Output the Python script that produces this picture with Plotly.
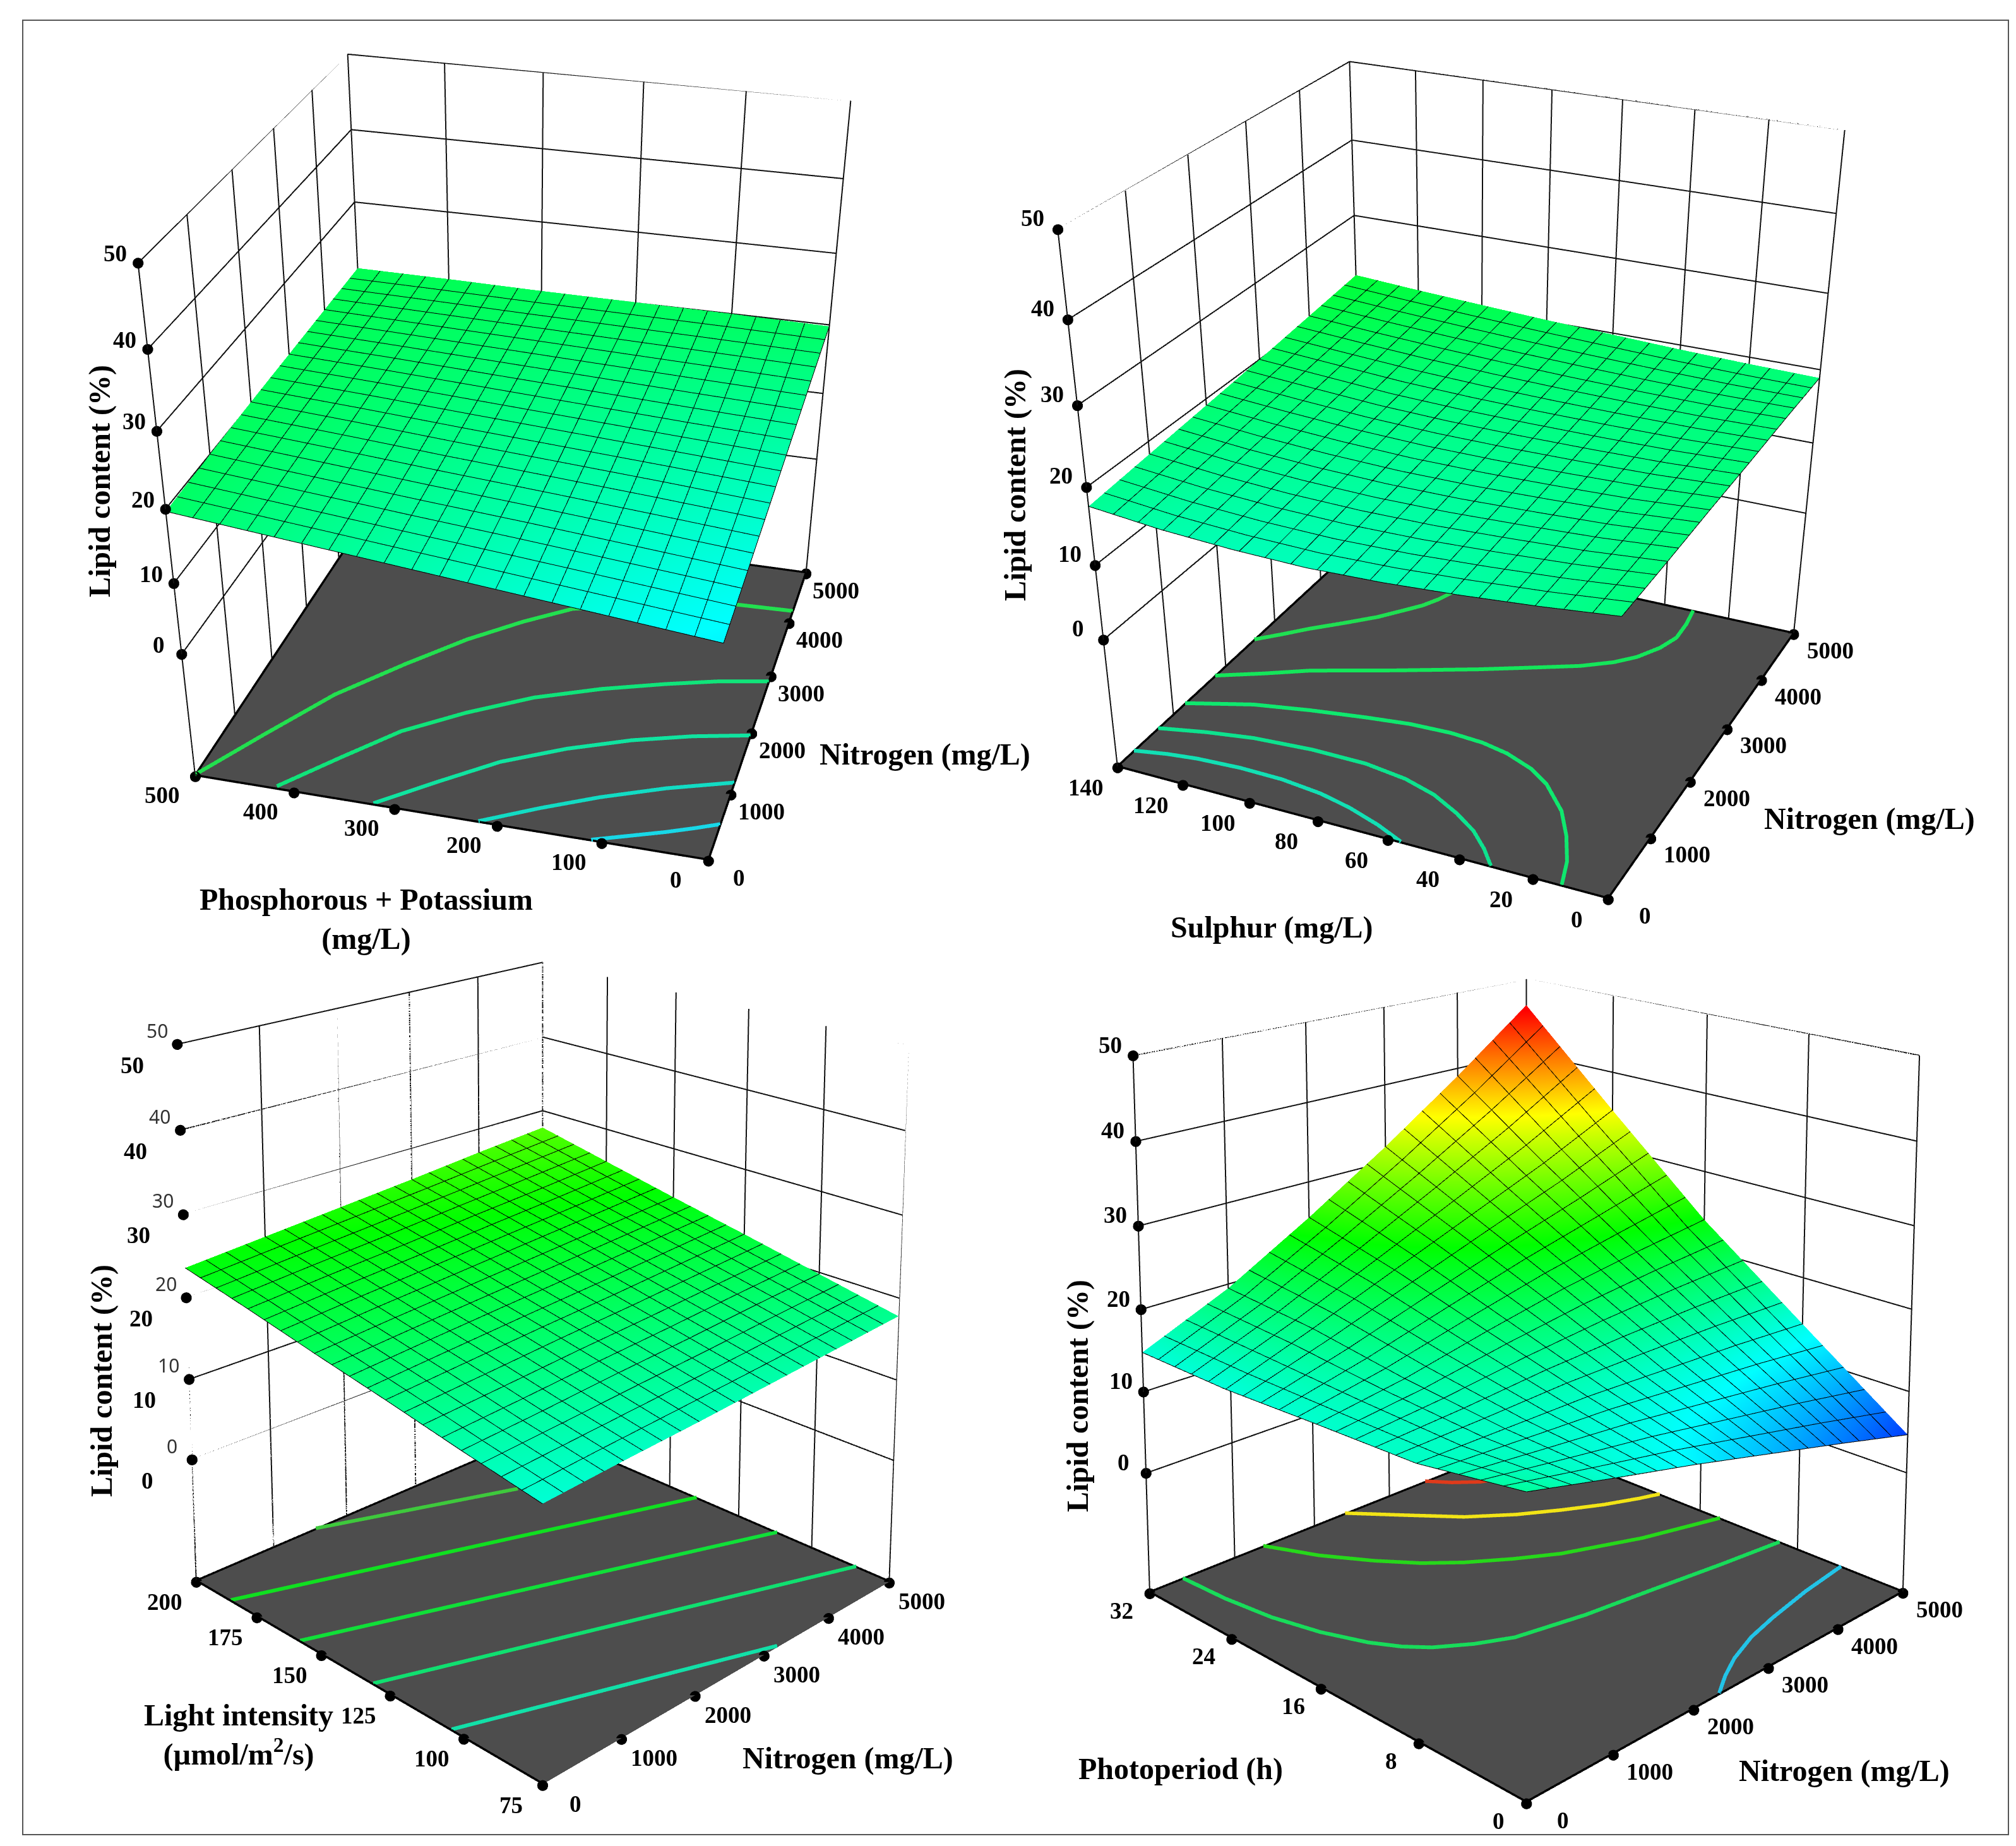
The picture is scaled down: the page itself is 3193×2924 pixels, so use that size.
import plotly.graph_objects as go

W, H = 3193, 2924

nitrogen = [0, 1000, 2000, 3000, 4000, 5000]
lipid_ticks = [0, 10, 20, 30, 40, 50]

# panel 1: phosphorous + potassium
pk = [0, 100, 200, 300, 400, 500]
lipid_pk = [
    [12.7, 14.1, 15.5, 17.0, 18.4, 19.8],
    [14.1, 15.3, 16.5, 17.6, 18.8, 20.0],
    [15.5, 16.5, 17.4, 18.3, 19.2, 20.1],
    [16.9, 17.6, 18.3, 19.0, 19.6, 20.2],
    [18.3, 18.8, 19.3, 19.7, 20.0, 20.4],
    [19.7, 20.0, 20.2, 20.3, 20.4, 20.5],
]
pk_contours = [
    ([0, 800, 1571, 2250, 2837, 3300, 3666, 3950, 4178, 4208], [500, 458, 416, 365, 317, 270, 226, 150, 65, 0]),
    ([27, 600, 1151, 1600, 2016, 2330, 2573, 2750, 2879], [418, 375, 332, 280, 222, 160, 100, 50, 0]),
    ([9, 480, 921, 1280, 1572, 1780, 1937], [321, 272, 224, 168, 110, 55, 0]),
    ([0, 330, 628, 920, 1165], [218, 168, 118, 60, 0]),
    ([0, 140, 279, 400, 518], [110, 78, 46.5, 22, 0]),
]

# panel 2: sulphur
sulphur = [0, 20, 40, 60, 80, 100, 120, 140]
lipid_s = [
    [18.7, 18.7, 18.8, 18.8, 18.9, 18.9],
    [17.7, 17.9, 18.2, 18.5, 18.8, 19.1],
    [16.9, 17.4, 17.9, 18.4, 18.9, 19.4],
    [16.3, 17.0, 17.7, 18.4, 19.1, 19.8],
    [16.0, 16.9, 17.7, 18.5, 19.4, 20.2],
    [16.2, 17.1, 18.0, 18.8, 19.8, 20.7],
    [16.7, 17.6, 18.5, 19.4, 20.3, 21.2],
    [17.6, 18.4, 19.2, 20.0, 20.9, 21.8],
]
s_contours = [
    ([2575, 2790, 3004, 3250, 3507, 3720, 3921, 4110, 4298], [140, 134, 128.4, 121, 113.7, 109, 104.7, 102, 100.2]),
    ([1791, 2030, 2267, 2630, 2992, 3240, 3474, 3680, 3873, 4140, 4400, 4700, 5000],
     [140, 128, 117.1, 95, 74.1, 61, 48.8, 41, 36.1, 32, 29.8, 30, 31]),
    ([1218, 1350, 1473, 1610, 1720, 1790, 1810, 1780, 1706, 1560, 1382, 1040, 697, 340, 0],
     [140, 131, 122.6, 107, 91.3, 79, 66.9, 57, 48.9, 40, 33.4, 25, 19.5, 15, 12.3]),
    ([720, 850, 946, 1000, 996, 920, 795, 610, 424, 210, 0], [140, 127, 114.1, 97, 80.7, 68, 58, 49, 41.8, 36, 31.4]),
    ([285, 365, 413, 445, 438, 380, 287, 150, 0], [140, 131, 122.7, 110, 97.4, 85, 75.2, 65, 56.3]),
]

# panel 3: light intensity
light = [75, 100, 125, 150, 175, 200]
lipid_l = [
    [14.9, 15.5, 16.0, 16.6, 17.2, 17.8],
    [16.6, 17.2, 17.9, 18.5, 19.2, 19.8],
    [18.4, 19.1, 19.8, 20.4, 21.1, 21.8],
    [20.1, 20.9, 21.6, 22.3, 23.0, 23.7],
    [21.9, 22.7, 23.4, 24.2, 24.9, 25.7],
    [23.6, 24.4, 25.2, 26.0, 26.9, 27.7],
]
l_contours = [
    ([1570, 3752], [200, 178.5]),
    ([0, 5000], [185.5, 140]),
    ([0, 5000], [158, 111.6]),
    ([0, 5000], [131, 85.4]),
    ([0, 3200], [104, 75]),
]

# panel 4: photoperiod
photo = [0, 8, 16, 24, 32]
lipid_p = [
    [17.5, 15.0, 12.6, 10.0, 7.4, 4.7],
    [15.6, 15.6, 15.6, 15.2, 14.8, 14.2],
    [15.2, 16.8, 19.0, 21.0, 22.5, 23.8],
    [14.7, 18.5, 22.5, 26.5, 30.5, 35.0],
    [14.8, 19.5, 25.5, 32.0, 39.0, 46.5],
]
p_contours = [
    ([3500, 3671, 3895, 4133], [32, 30.6, 29.3, 28.7]),
    ([2400, 2800, 3195, 3600, 4000, 4400, 4769, 5000], [32, 29, 26.1, 24, 22.4, 21, 20, 19.5]),
    ([1350, 1600, 1904, 2190, 2491, 2880, 3290, 4100, 5000], [32, 28.5, 25.5, 23.2, 21.4, 19.6, 18, 15.9, 14.3]),
    ([380, 410, 486, 620, 800, 960, 1141, 1450, 1793, 2550, 3405, 4200, 5000],
     [32, 28, 24.2, 20.8, 17.9, 16.2, 14.9, 13.5, 12.4, 11.4, 10.7, 10, 9.4]),
    ([2333, 2600, 2893, 3300, 3723, 4350, 5000], [0, 1, 1.9, 2.8, 3.4, 4.1, 4.6]),
]

rainbow = [[0, '#0000ff'], [0.25, '#00ffff'], [0.5, '#00ff00'], [0.75, '#ffff00'], [1, '#ff0000']]
FONT = 'Liberation Serif'
FLAT = dict(ambient=1, diffuse=0, specular=0, fresnel=0)

panels = [
    dict(y=pk, z=lipid_pk, step=25, contours=pk_contours,
         colors=['#22e04f', '#10e47a', '#10e4a0', '#12dcc4', '#18d8e8'],
         px=(0, 1616), eye=(-3.510, -0.953, 1.856), center=(-0.536, -0.137, -0.674),
         ay=0.942, az=0.962, zmin=-18.423,
         xs=(48, -27), ys=(-52, -30), zs=(-36, 15)),
    dict(y=sulphur, z=lipid_s, step=7, contours=s_contours,
         colors=['#1fe052', '#14e65a', '#0fe86e', '#0de38e', '#12e0b4'],
         px=(1429, 1764), eye=(-3.369, -1.553, 1.736), center=(-0.468, -0.203, -0.676),
         ay=0.975, az=1.006, zmin=-18.252,
         xs=(58, -26), ys=(-50, -32), zs=(-40, 18)),
    dict(y=light, z=lipid_l, step=6.25, contours=l_contours,
         colors=['#3ec93c', '#10e020', '#10e038', '#10e070', '#12e0a8'],
         px=(0, 1702), eye=(-2.947, -2.953, 1.693), center=(0.115, 0.116, 0.764),
         ay=1.002, az=1.137, zmin=-15.546,
         xs=(52, -30), ys=(-50, -32), zs=(-71, -33)),
    dict(y=photo, z=lipid_p, step=1.6, contours=p_contours,
         colors=['#e03a1a', '#f2e416', '#26d81a', '#18dc5a', '#22c4e8'],
         px=(1627, 1566), eye=(-2.764, -2.761, 1.430), center=(0.090, 0.089, 0.728),
         ay=0.999, az=1.035, zmin=-15.053,
         xs=(58, -27), ys=(-44, -28), zs=(-36, 17)),
]

fig = go.Figure()
layout = {}

for i, p in enumerate(panels):
    sc = 'scene' if i == 0 else f'scene{i + 1}'
    y = p['y']
    ylo, yhi = y[0], y[-1]
    zmin = p['zmin']

    # wall grid as thick lines, the native gl grid only comes out hairline thin
    gx, gy, gz = [], [], []
    for v in nitrogen:
        gx += [v, v, None]
        gy += [yhi, yhi, None]
        gz += [zmin, 50, None]
    for v in y:
        gx += [5000, 5000, None]
        gy += [v, v, None]
        gz += [zmin, 50, None]
    for v in lipid_ticks:
        gx += [0, 5000, 5000, None]
        gy += [yhi, yhi, ylo, None]
        gz += [v, v, v, None]
    fig.add_trace(go.Scatter3d(x=gx, y=gy, z=gz, mode='lines', scene=sc, showlegend=False,
                               line=dict(color='#111111', width=4), hoverinfo='skip'))

    # dark floor
    fig.add_trace(go.Mesh3d(x=[0, 5000, 5000, 0], y=[ylo, ylo, yhi, yhi], z=[zmin + 0.1] * 4,
                            i=[0, 0], j=[1, 2], k=[2, 3], color='#4d4d4d', scene=sc,
                            lighting=FLAT, hoverinfo='skip'))
    # floor outline
    fig.add_trace(go.Scatter3d(x=[0, 5000, 5000, 0, 0], y=[ylo, ylo, yhi, yhi, ylo],
                               z=[zmin + 0.2] * 5, mode='lines', scene=sc, showlegend=False,
                               line=dict(color='black', width=7), hoverinfo='skip'))
    # contours on the floor
    for (cx, cy), col in zip(p['contours'], p['colors']):
        fig.add_trace(go.Scatter3d(x=cx, y=cy, z=[zmin + 0.3] * len(cx), mode='lines', scene=sc,
                                   showlegend=False, line=dict(color=col, width=12), hoverinfo='skip'))
    # response surface
    fig.add_trace(go.Surface(x=nitrogen, y=y, z=p['z'], scene=sc, colorscale=rainbow,
                             cmin=2, cmax=46, showscale=False, lighting=FLAT,
                             contours=dict(
                                 x=dict(show=True, start=0, end=5000, size=250, color='black', width=4),
                                 y=dict(show=True, start=ylo, end=yhi, size=p['step'], color='black', width=4)),
                             hoverinfo='skip'))
    # tick dots
    fig.add_trace(go.Scatter3d(x=nitrogen, y=[ylo] * 6, z=[zmin] * 6, mode='markers', scene=sc,
                               showlegend=False, marker=dict(color='black', size=10), hoverinfo='skip'))
    fig.add_trace(go.Scatter3d(x=[0] * len(y), y=y, z=[zmin] * len(y), mode='markers', scene=sc,
                               showlegend=False, marker=dict(color='black', size=10), hoverinfo='skip'))
    fig.add_trace(go.Scatter3d(x=[0] * 6, y=[yhi] * 6, z=lipid_ticks, mode='markers', scene=sc,
                               showlegend=False, marker=dict(color='black', size=10), hoverinfo='skip'))

    tickfont = dict(family=FONT, size=37, color='black')
    ann = []
    # a hair above the floor, labels right on the range limit can get dropped
    for v in nitrogen:
        ann.append(dict(x=v, y=ylo, z=zmin + 0.05, text=f'<b>{v}</b>', showarrow=False, font=tickfont,
                        xshift=p['xs'][0], yshift=p['xs'][1]))
    for v in y:
        ann.append(dict(x=0, y=v, z=zmin + 0.05, text=f'<b>{v}</b>', showarrow=False, font=tickfont,
                        xshift=p['ys'][0], yshift=p['ys'][1]))
    for v in lipid_ticks:
        ann.append(dict(x=0, y=yhi, z=v, text=f'<b>{v}</b>', showarrow=False, font=tickfont,
                        xshift=p['zs'][0], yshift=p['zs'][1]))
    if i == 2:
        # this panel carries a second, lighter set of z labels
        for v in lipid_ticks:
            ann.append(dict(x=0, y=yhi, z=v, text=str(v), showarrow=False,
                            font=dict(family='Noto Sans', size=30, color='#333333'),
                            xshift=-32, yshift=22))

    # no wall background: the page is white anyway and the grid lines would fight with it
    axis = dict(showticklabels=False, showline=False, zeroline=False, ticks='', title='',
                showbackground=False, showgrid=False, showspikes=False)
    layout[sc] = dict(
        domain=dict(x=[p['px'][0] / W, (p['px'][0] + p['px'][1]) / W], y=[0, 1]),
        aspectmode='manual', aspectratio=dict(x=1, y=p['ay'], z=p['az']),
        camera=dict(eye=dict(zip('xyz', p['eye'])), center=dict(zip('xyz', p['center'])),
                    up=dict(x=0, y=0, z=1), projection=dict(type='perspective')),
        xaxis=dict(axis, range=[0, 5000], tickvals=nitrogen),
        yaxis=dict(axis, range=[ylo, yhi], tickvals=y),
        zaxis=dict(axis, range=[zmin, 50], tickvals=lipid_ticks),
        annotations=ann,
    )

titles = [
    ('Lipid content (%)', 150, 754, -90), ('Nitrogen (mg/L)', 1457, 1187, 0),
    ('Phosphorous + Potassium<br>(mg/L)', 572, 1448, 0),
    ('Lipid content (%)', 1600, 760, -90), ('Nitrogen (mg/L)', 2953, 1289, 0),
    ('Sulphur (mg/L)', 2006, 1461, 0),
    ('Lipid content (%)', 153, 2179, -90), ('Nitrogen (mg/L)', 1335, 2777, 0),
    ('Light intensity<br>(µmol/m<sup>2</sup>/s)', 370, 2740, 0),
    ('Lipid content (%)', 1699, 2203, -90), ('Nitrogen (mg/L)', 2913, 2797, 0),
    ('Photoperiod (h)', 1862, 2794, 0),
]
annotations = [dict(text=f'<b>{t}</b>', x=tx / W, y=1 - ty / H, xref='paper', yref='paper',
                    xanchor='center', yanchor='middle', showarrow=False, textangle=a,
                    font=dict(family=FONT, size=48, color='black'))
               for t, tx, ty, a in titles]

fig.update_layout(width=W, height=H, margin=dict(l=0, r=0, t=0, b=0), showlegend=False,
                  paper_bgcolor='white', annotations=annotations,
                  shapes=[dict(type='rect', xref='paper', yref='paper', x0=28 / W, x1=3173 / W,
                               y0=1 - 2898 / H, y1=1 - 24 / H, line=dict(color='#555555', width=2))],
                  **layout)

# the default gl pixel ratio of 2 is far too slow at this page size
fig.write_html("out.html", config=dict(plotGlPixelRatio=1))
